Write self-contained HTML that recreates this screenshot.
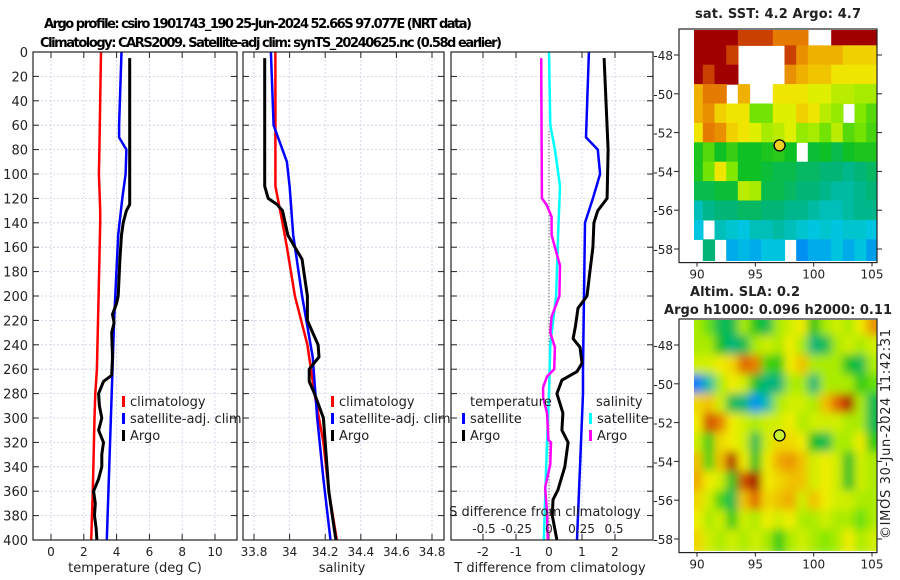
<!DOCTYPE html>
<html><head><meta charset="utf-8"><style>
html,body{margin:0;padding:0;background:#fff;}
svg{display:block;font-family:"DejaVu Sans","Liberation Sans",sans-serif;}
</style></head><body>
<svg id="s" width="900" height="580" viewBox="0 0 900 580">
<defs>
<filter id="blur" x="-5%" y="-5%" width="110%" height="110%"><feGaussianBlur stdDeviation="4.5" edgeMode="duplicate"/></filter>
<clipPath id="clipm1"><rect x="694" y="30" width="183" height="231"/></clipPath>
<clipPath id="clipm2"><rect x="694" y="320" width="183" height="231"/></clipPath>
</defs>
<text x="258" y="28" font-size="13" font-weight="bold" text-anchor="middle" textLength="428">Argo profile: csiro 1901743_190 25-Jun-2024 52.66S 97.077E (NRT data)</text>
<text x="271" y="47" font-size="13" font-weight="bold" text-anchor="middle" textLength="462">Climatology: CARS2009. Satellite-adj clim: synTS_20240625.nc (0.58d earlier)</text>
<g id="plots"></g>
</svg>
<script>
// ---- profile data ----
const depthTick=[0,20,40,60,80,100,120,140,160,180,200,220,240,260,280,300,320,340,360,380,400];
const tempTicks=[0,2,4,6,8,10];
const salTicks=[33.8,34,34.2,34.4,34.6,34.8];
const salTickLabels=["33.8","34","34.2","34.4","34.6","34.8"];
const tdTicks=[-2,-1,0,1,2];
const sdTicks=[-0.5,-0.25,0,0.25,0.5];
const sdTickLabels=["-0.5","-0.25","0","0.25","0.5"];

const climTDepth=[0,40,80,100,130,140,200,260,280,300,360,400];
const climT=[3.05,3.0,2.95,2.92,3.0,3.0,2.9,2.8,2.7,2.65,2.55,2.45];
const satTDepth=[0,60,70,80,100,120,150,220,280,400];
const satT=[4.3,4.15,4.15,4.6,4.55,4.35,4.1,3.85,3.7,3.4];
const argoTDepth=[5,60,125,130,140,150,170,200,206,215,222,230,250,265,270,280,290,300,310,320,330,340,350,360,370,380,390,400];
const argoT=[4.8,4.8,4.8,4.6,4.4,4.3,4.2,4.1,4.0,3.75,3.85,3.7,3.75,3.7,3.2,2.9,2.95,3.1,2.9,3.2,3.1,3.1,2.9,2.6,2.7,2.65,2.75,2.8];

const climSDepth=[0,110,140,160,200,240,280,320,360,400];
const climS=[33.92,33.92,33.96,33.985,34.03,34.10,34.14,34.19,34.22,34.265];
const satSDepth=[0,60,90,110,150,200,250,300,350,400];
const satS=[33.895,33.91,33.985,34.0,34.02,34.07,34.13,34.155,34.19,34.23];
const argoSDepth=[5,110,120,125,130,140,150,160,170,180,200,220,230,240,250,260,270,280,300,320,340,360,380,400];
const argoS=[33.86,33.86,33.88,33.93,33.96,33.975,33.99,34.03,34.07,34.08,34.10,34.10,34.13,34.16,34.165,34.11,34.11,34.14,34.19,34.2,34.21,34.22,34.24,34.26];

const dTArgoDepth=[5,80,120,130,140,160,180,200,210,225,235,242,255,262,269,280,296,310,320,340,359,367,380,400];
const dTArgo=[1.67,1.79,1.76,1.48,1.36,1.33,1.24,1.15,0.88,0.8,0.73,0.94,1.0,0.85,0.39,0.24,0.42,0.39,0.58,0.48,0.27,0.12,0.1,0.24];
const dTSatDepth=[0,70,80,100,120,140,260,280,400];
const dTSat=[1.21,1.12,1.48,1.55,1.33,1.09,1.03,1.03,0.85];
const dSSatDepth=[0,60,80,110,150,200,240,280,320,400];
const dSSat=[0.0,0.01,0.045,0.085,0.07,0.055,0.01,0.0,-0.015,-0.04];
const dSArgoDepth=[5,120,125,135,150,160,175,200,217,230,242,260,266,275,283,296,318,320,338,357,377,400];
const dSArgo=[-0.06,-0.055,-0.02,0.02,0.02,0.045,0.085,0.08,0.02,0.01,0.045,0.04,-0.015,-0.045,-0.045,-0.015,-0.005,0.015,0.01,-0.03,-0.015,-0.01];

// ---- map data (rows lat -47..-58, cols lon 90..105) ----
const mapLats=[-47,-48,-49,-50,-51,-52,-53,-54,-55,-56,-57,-58];
const mapLons=[90,91,92,93,94,95,96,97,98,99,100,101,102,103,104,105];
const N=null;
const sstGrid=[
[8,8,8,8,7.5,7.5,7.5,7,7,7,N,N,8,8,8,8],
[8,8,8,7.5,N,N,N,N,7.5,6.8,6.5,6.5,6.5,6.2,6.2,6.2],
[8,7.5,8,8,N,N,N,N,6.8,6.5,6.3,6.3,6,6,6,6],
[6.5,7,7,N,6.5,N,N,6,6,6,5.8,5.8,5.6,5.6,5.5,5.5],
[6.5,6.8,6.2,6,6,5.2,5.2,5.8,5.8,6.2,6,5.6,5.4,N,5.3,5],
[6,7,6.8,6.2,6,5.8,5.5,5.6,5.8,5.4,5.5,5.2,5.6,5,5.2,4.9],
[4.6,5,4.5,4.8,4.5,4.5,4.6,4.7,4.5,N,4.4,4.5,4.3,4.5,4.6,4.6],
[4.6,5.2,6,5.3,4.5,4.5,4.4,4.3,4.3,4.2,4.2,4.1,4.1,4,4.1,4.2],
[4.3,4.3,4.4,4.4,5.6,5.5,4.3,4.3,4.2,4.1,4.1,4,3.9,3.9,4,4.1],
[3.8,4,4.1,4.1,4.2,4.2,4.1,4.1,4.0,4.0,3.9,3.8,3.8,3.9,4.0,4.0],
[3.6,N,3.8,3.7,3.6,3.8,3.8,3.9,3.8,3.7,3.6,3.7,3.6,3.7,3.7,3.6],
[N,4.1,N,3.4,3.5,3.4,3.6,3.6,N,3.2,3.4,3.4,3.6,3.4,3.6,3.3]];
const slaGrid=[
[.04,.0,-.08,-.08,.04,-.05,-.08,.04,.06,.08,-.05,.04,.06,.04,.08,.16],
[.04,.04,-.06,-.1,-.08,.04,.06,.04,.08,.04,-.1,-.08,.04,.06,.04,.06],
[.06,.06,.08,.1,.2,.18,-.02,-.04,.08,.12,.04,.04,.04,-.06,-.08,.04],
[-.2,-.12,.04,.08,.06,-.06,-.1,-.1,.04,.04,-.1,.04,.04,.04,-.04,.0],
[.1,.12,.06,-.08,-.1,-.18,-.12,.04,.06,.06,.04,.12,.2,.26,.04,-.08],
[.08,.22,.18,.08,.06,.04,.06,.06,.08,.04,.06,.06,.06,.04,.04,-.08],
[.06,-.04,.1,.08,.06,-.08,.06,.1,.1,.08,-.06,-.08,.04,.04,.08,-.04],
[.12,-.02,.12,.26,.08,-.06,.08,.14,.16,.12,.06,.08,.06,-.06,.06,.04],
[.14,.08,.06,-.06,.22,.3,.08,.1,.12,.12,.06,.08,.06,-.06,.06,.04],
[.1,.06,-.02,-.08,.12,.2,.1,.12,.14,.06,.12,.08,.06,.06,.04,.04],
[.08,.04,.06,-.04,.06,.04,.08,.06,.08,.04,.04,.06,.04,.04,.0,.04],
[.1,.06,.04,.06,.04,.06,.04,-.04,.04,.06,.04,.02,.04,.08,.04,.06]];
const argoLon=97.077, argoLat=-52.66;
const mapLatTicks=[-48,-50,-52,-54,-56,-58];
const mapLonTicks=[90,95,100,105];

const NS="http://www.w3.org/2000/svg";
const root=document.getElementById('plots');
function el(tag,attrs,parent){const e=document.createElementNS(NS,tag);for(const k in attrs)e.setAttribute(k,attrs[k]);(parent||root).appendChild(e);return e;}
function txt(x,y,s,size,anchor,parent,extra){const t=el('text',Object.assign({x:x,y:y,'font-size':size,'text-anchor':anchor||'middle',fill:'#222'},extra||{}),parent);t.textContent=s;return t;}

const Y0=52,Y1=540;
const yD=d=>Y0+d*(Y1-Y0)/400;

function panel(x0,x1,xfn,ticks,labels,name,showY){
  const g=el('g',{});
  
  
  el('rect',{x:x0,y:Y0,width:x1-x0,height:Y1-Y0,fill:'#fff'},g);
  depthTick.forEach(d=>{
    const y=yD(d);
    const gl=el('line',{x1:x0,x2:x1,y1:y,y2:y,stroke:'#c8cfe8','stroke-width':0.8,'stroke-dasharray':'2,2'},g);
    
    el('line',{x1:x0,x2:x0+6,y1:y,y2:y,stroke:'#222'},g);
    el('line',{x1:x1-6,x2:x1,y1:y,y2:y,stroke:'#222'},g);
    if(showY){const t=txt(x0-5,y+5,String(d),13,'end',g);}
  });
  ticks.forEach((v,i)=>{
    const x=xfn(v);
    el('line',{x1:x,x2:x,y1:Y0,y2:Y1,stroke:'#c8cfe8','stroke-width':0.8,'stroke-dasharray':'2,2'},g);
    el('line',{x1:x,x2:x,y1:Y1-6,y2:Y1,stroke:'#222'},g);
    el('line',{x1:x,x2:x,y1:Y0,y2:Y0+6,stroke:'#222'},g);
    if(labels){const t=txt(x,556,labels[i],12,'middle',g);}
  });
  return g;
}
function line(depths,vals,xfn,color,w,name,g){
  const pts=depths.map((d,i)=>xfn(vals[i]).toFixed(1)+','+yD(d).toFixed(1)).join(' ');
  const p=el('polyline',{points:pts,fill:'none',stroke:color,'stroke-width':w,'stroke-linejoin':'round'},g);
  
  
}
function frame(x0,x1,g){el('rect',{x:x0,y:Y0,width:x1-x0,height:Y1-Y0,fill:'none',stroke:'#222','stroke-width':1.2},g);}
function legend(x,y,items,g){
  items.forEach((it,i)=>{
    const yy=y+i*17;
    const m=el('rect',{x:x,y:yy-10,width:3,height:11,fill:it[1]},g);
    
    const t=txt(x+8,yy,it[0],13,'start',g);
    
    
  });
}

// panel 1 temperature
const xT=v=>51+v*16.4;
const g1=panel(33,237,xT,tempTicks,tempTicks.map(String),'temperature-panel',true);
line(climTDepth,climT,xT,'#f00',2.5,'climatology-temp-line',g1);
line(satTDepth,satT,xT,'#00f',2.5,'satellite-temp-line',g1);
line(argoTDepth,argoT,xT,'#000',3,'argo-temp-line',g1);
frame(33,237,g1);
legend(122,406,[['climatology','#f00'],['satellite-adj. clim','#00f'],['Argo','#000']],g1);
let t=txt(135,572,'temperature (deg C)',13,'middle',g1);

// panel 2 salinity
const xS=v=>254+(v-33.8)*178;
const g2=panel(243,444,xS,salTicks,salTickLabels,'salinity-panel',false);
line(climSDepth,climS,xS,'#f00',2.5,'climatology-sal-line',g2);
line(satSDepth,satS,xS,'#00f',2.5,'satellite-sal-line',g2);
line(argoSDepth,argoS,xS,'#000',3,'argo-sal-line',g2);
frame(243,444,g2);
legend(331,406,[['climatology','#f00'],['satellite-adj. clim','#00f'],['Argo','#000']],g2);
t=txt(342,572,'salinity',13,'middle',g2);

// panel 3 differences
const xdT=v=>549+v*33;
const xdS=v=>549+v*130;
const g3=panel(451,653,xdT,tdTicks,tdTicks.map(String),'difference-panel',false);
el('line',{x1:549,x2:549,y1:yD(65),y2:Y1,stroke:'#444','stroke-width':1,'stroke-dasharray':'1,2'},g3);
line(dSSatDepth,dSSat,xdS,'#0ff',2.5,'satellite-sal-diff-line',g3);
line(dSArgoDepth,dSArgo,xdS,'#f0f',2.5,'argo-sal-diff-line',g3);
line(dTSatDepth,dTSat,xdT,'#00f',2.5,'satellite-temp-diff-line',g3);
line(dTArgoDepth,dTArgo,xdT,'#000',3,'argo-temp-diff-line',g3);
frame(451,653,g3);
t=txt(470,406,'temperature',13,'start',g3);
legend(462,423,[['satellite','#00f'],['Argo','#000']],g3);
t=txt(596,406,'salinity',13,'start',g3);
legend(589,423,[['satellite','#0ff'],['Argo','#f0f']],g3);
t=txt(545,516,'S difference from climatology',13,'middle',g3);
sdTicks.forEach((v,i)=>{const tt=txt(xdS(v),533,sdTickLabels[i],12,'middle',g3);});
t=txt(550,572,'T difference from climatology',13,'middle',g3);

// colormap
const stops=[[0,[0,0,160]],[0.14,[0,96,255]],[0.27,[0,200,224]],[0.34,[0,180,130]],[0.42,[16,192,32]],[0.55,[130,232,0]],[0.65,[240,240,0]],[0.75,[240,176,0]],[0.87,[224,100,0]],[1,[160,0,0]]];
function cmap(f){f=Math.max(0,Math.min(1,f));for(let i=1;i<stops.length;i++){if(f<=stops[i][0]){const a=stops[i-1],b=stops[i];const r=(f-a[0])/(b[0]-a[0]);const c=a[1].map((v,k)=>Math.round(v+(b[1][k]-v)*r));return 'rgb('+c.join(',')+')';}}return 'rgb(160,0,0)';}

function mapPanel(top,grid,vmin,vmax,name,clipId,blur,dotColor){
  const PX=19.4;
  const my=lat=>top+25+(-48-lat)*PX;
  const mx=lon=>697+(lon-90)*11.667;
  const g=el('g',{});
  
  
  const bottom=my(-58.7);
  const cells=el('g',{'clip-path':'url(#'+clipId+')'},g);
  const inner=el('g',blur?{filter:'url(#blur)'}:{},cells);
  mapLats.forEach((lat,r)=>{mapLons.forEach((lon,c)=>{
    const v=grid[r][c]; if(v===null) return;
    const x=mx(lon-0.5)-(c===0?8:0), y=my(lat+0.5)-(r===0?6:0);
    const w=mx(lon+0.5)-x+(c===mapLons.length-1?8:0)+0.6, h=my(lat-0.5)-y+(r===mapLats.length-1?6:0)+0.6;
    const rc=el('rect',{x:x.toFixed(1),y:y.toFixed(1),width:w.toFixed(1),height:h.toFixed(1),fill:cmap((v-vmin)/(vmax-vmin))},inner);
    
  });});
  el('rect',{x:679,y:top-1,width:198,height:bottom-top+1,fill:'none',stroke:'#222','stroke-width':1.2},g);
  mapLatTicks.forEach(l=>{const y=my(l);el('line',{x1:877,x2:882,y1:y,y2:y,stroke:'#222'},g);el('line',{x1:674,x2:679,y1:y,y2:y,stroke:'#222'},g);
    const tt=txt(673,y+5,String(l),12,'end',g);});
  mapLonTicks.forEach(l=>{const x=mx(l);el('line',{x1:x,x2:x,y1:bottom,y2:bottom+4,stroke:'#222'},g);
    const tt=txt(x,bottom+16,String(l),12,'middle',g);});
  const dot=el('circle',{cx:mx(argoLon),cy:my(argoLat),r:5.5,fill:dotColor,stroke:'#000','stroke-width':1.3},g);
  
  
}
mapPanel(30,sstGrid,2,8,'sst-map','clipm1',false,'#f0d020');
mapPanel(320,slaGrid,-0.3,0.28,'sla-map','clipm2',true,'#c8f030');
t=txt(778,18,'sat. SST: 4.2 Argo: 4.7',13,'middle',null,{'font-weight':'bold','textLength':166});
t=txt(745,296,'Altim. SLA: 0.2',13,'middle',null,{'font-weight':'bold','textLength':110});
t=txt(778,314,'Argo h1000: 0.096 h2000: 0.11',13,'middle',null,{'font-weight':'bold','textLength':228});
t=txt(0,0,'©IMOS 30-Jun-2024 11:42:31',13,'middle',null,{transform:'translate(890,434) rotate(-90)','textLength':210});
</script>
</body></html>
